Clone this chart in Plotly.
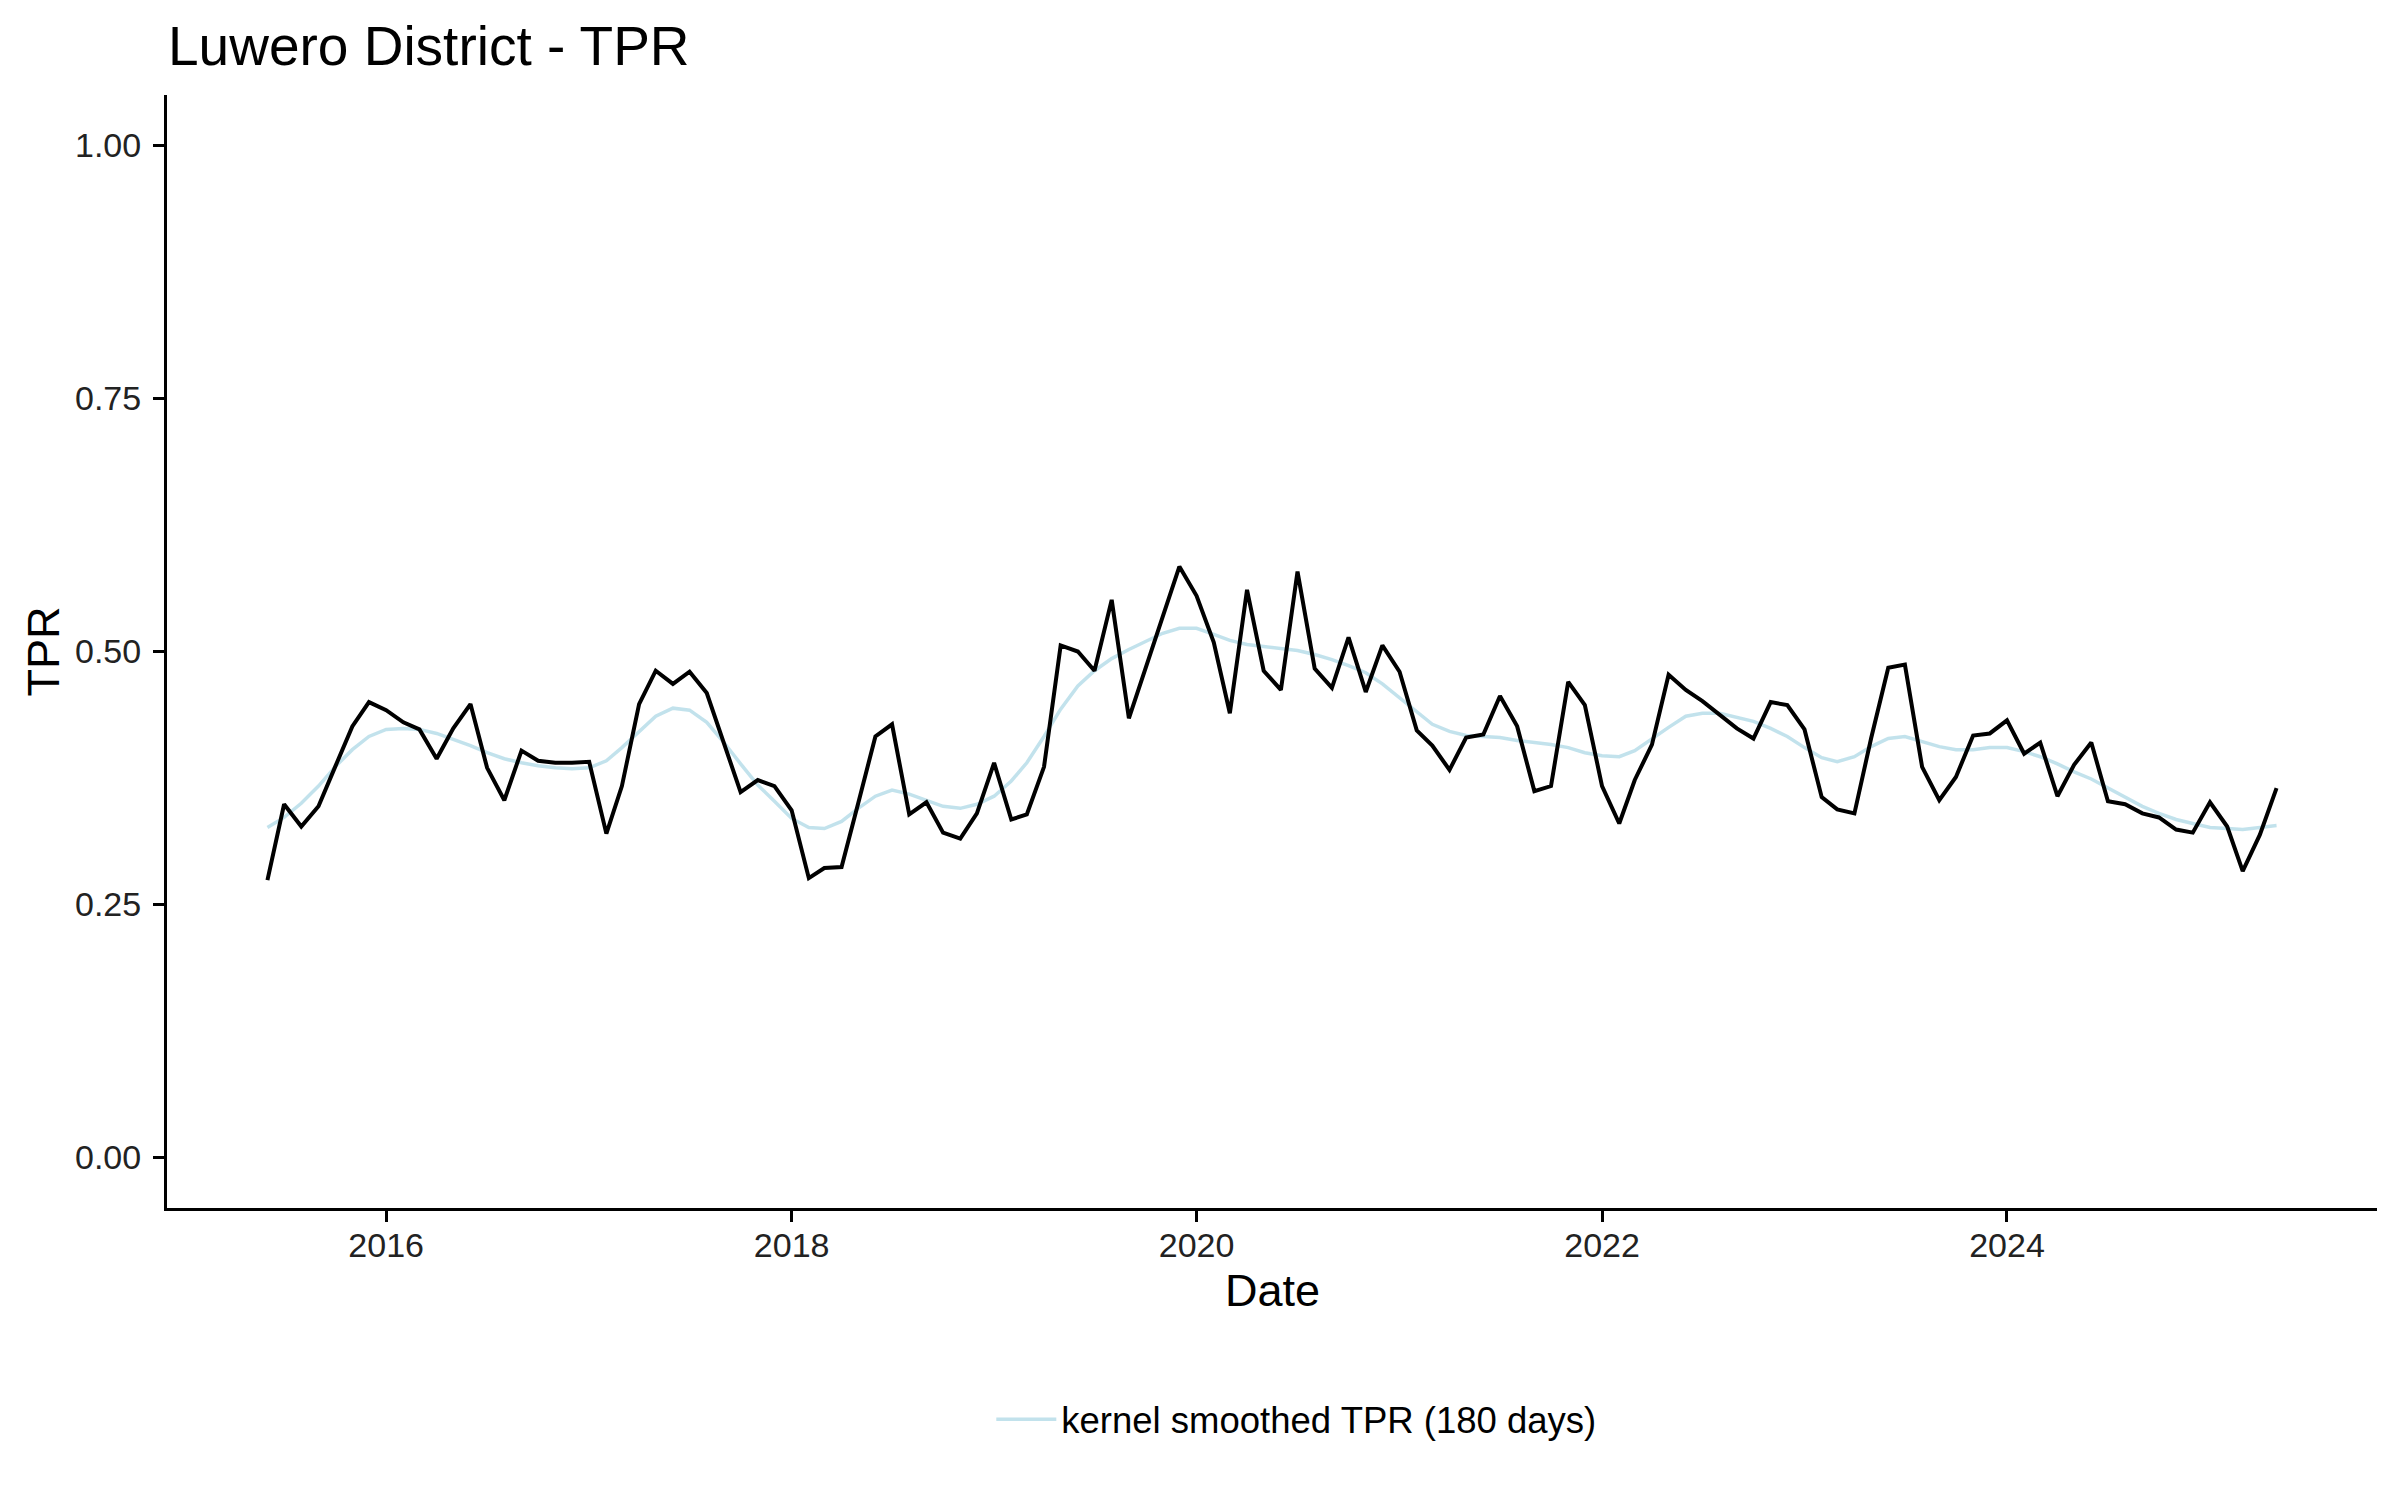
import pandas as pd
import plotly.graph_objects as go

# Monthly dates, June 2015 to May 2025
dates = pd.date_range("2015-06-01", "2025-05-01", freq="MS")

tpr = [
    0.274, 0.349, 0.327, 0.347, 0.386, 0.426, 0.450, 0.442, 0.430, 0.423,
    0.394, 0.424, 0.448, 0.385, 0.353, 0.402, 0.392, 0.390, 0.390, 0.391,
    0.320, 0.367, 0.448, 0.481, 0.468, 0.480, 0.459, 0.410, 0.361, 0.373,
    0.367, 0.343, 0.276, 0.286, 0.287, 0.350, 0.416, 0.428, 0.339, 0.351,
    0.321, 0.315, 0.340, 0.390, 0.334, 0.339, 0.386, 0.506, 0.500, 0.481,
    0.551, 0.434, 0.484, 0.534, 0.584, 0.555, 0.509, 0.439, 0.561, 0.481,
    0.462, 0.579, 0.483, 0.464, 0.514, 0.460, 0.506, 0.480, 0.422, 0.407,
    0.383, 0.415, 0.418, 0.456, 0.426, 0.362, 0.367, 0.470, 0.447, 0.367,
    0.330, 0.373, 0.408, 0.477, 0.462, 0.451, 0.438, 0.424, 0.414, 0.450,
    0.447, 0.423, 0.356, 0.344, 0.340, 0.414, 0.484, 0.487, 0.386, 0.353,
    0.376, 0.417, 0.419, 0.432, 0.399, 0.410, 0.357, 0.388, 0.410, 0.352,
    0.349, 0.340, 0.336, 0.324, 0.321, 0.351, 0.327, 0.283, 0.319, 0.365,
]

smoothed = [
    0.326, 0.336, 0.350, 0.367, 0.386, 0.403, 0.416, 0.423, 0.424, 0.423,
    0.419, 0.413, 0.407, 0.400, 0.394, 0.390, 0.387, 0.385, 0.384, 0.385,
    0.392, 0.405, 0.421, 0.436, 0.444, 0.442, 0.430, 0.410, 0.389, 0.368,
    0.352, 0.335, 0.326, 0.325, 0.332, 0.345, 0.357, 0.363, 0.359, 0.353,
    0.347, 0.345, 0.349, 0.357, 0.372, 0.390, 0.416, 0.443, 0.466, 0.481,
    0.493, 0.502, 0.510, 0.518, 0.523, 0.523, 0.517, 0.511, 0.507, 0.505,
    0.503, 0.501, 0.497, 0.492, 0.486, 0.479, 0.468, 0.454, 0.440, 0.428,
    0.421, 0.417, 0.416, 0.415, 0.412, 0.410, 0.408, 0.405, 0.400, 0.397,
    0.396, 0.402, 0.414, 0.425, 0.436, 0.439, 0.439, 0.435, 0.431, 0.424,
    0.416, 0.405, 0.395, 0.391, 0.396, 0.406, 0.414, 0.416, 0.411, 0.406,
    0.403, 0.403, 0.405, 0.405, 0.401, 0.396, 0.389, 0.381, 0.374, 0.365,
    0.356, 0.347, 0.340, 0.334, 0.330, 0.326, 0.325, 0.324, 0.326, 0.328,
]

x_tick_vals = ["2016-01-01", "2018-01-01", "2020-01-01", "2022-01-01", "2024-01-01"]
x_tick_text = ["2016", "2018", "2020", "2022", "2024"]
y_tick_vals = [0.0, 0.25, 0.5, 0.75, 1.0]
y_tick_text = ["0.00", "0.25", "0.50", "0.75", "1.00"]

FONT = "Liberation Sans, Arial, sans-serif"

fig = go.Figure()
fig.add_trace(go.Scatter(
    x=dates, y=smoothed, mode="lines",
    line=dict(color="rgba(173,216,230,0.75)", width=3.5),
    name="kernel smoothed TPR (180 days)", showlegend=True,
))
fig.add_trace(go.Scatter(
    x=dates, y=tpr, mode="lines",
    line=dict(color="black", width=4),
    name="TPR", showlegend=False,
))

span = dates[-1] - dates[0]
pad = span * 0.05
x_range = [dates[0] - pad, dates[-1] + pad]

fig.update_layout(
    width=2400, height=1500,
    paper_bgcolor="white", plot_bgcolor="white",
    margin=dict(l=159, r=31, t=87, b=300),
    font=dict(family=FONT, color="black"),
    title=dict(text="Luwero District - TPR", x=160 / 2400, xanchor="left",
               xref="container", yref="container", y=1 - 38 / 1500,
               yanchor="middle", font=dict(size=55, family=FONT, color="black")),
    xaxis=dict(
        type="date", range=x_range, tickvals=x_tick_vals, ticktext=x_tick_text,
        showgrid=False, zeroline=False, showline=True, linecolor="black",
        linewidth=3, ticks="outside", ticklen=11, tickwidth=3, tickcolor="black",
        ticklabelstandoff=-6,
        tickfont=dict(size=34, family=FONT, color="#222222"),
    ),
    yaxis=dict(
        range=[-0.05, 1.05], tickvals=y_tick_vals, ticktext=y_tick_text,
        showgrid=False, zeroline=False, showline=True, linecolor="black",
        linewidth=3, ticks="outside", ticklen=11, tickwidth=3, tickcolor="black",
        ticklabelstandoff=5,
        tickfont=dict(size=34, family=FONT, color="#222222"),
    ),
    legend=dict(orientation="h", x=0.511, xanchor="center", y=-0.19,
                yanchor="middle", itemwidth=60,
                font=dict(size=36.5, family=FONT, color="black"),
                bgcolor="rgba(0,0,0,0)"),
    annotations=[
        dict(text="Date", xref="paper", yref="paper", x=0.5, y=-0.0737,
             xanchor="center", yanchor="middle", showarrow=False,
             font=dict(size=45, family=FONT, color="black")),
        dict(text="TPR", xref="paper", yref="paper", x=-0.0561, y=0.5,
             xanchor="center", yanchor="middle", showarrow=False, textangle=-90,
             font=dict(size=45, family=FONT, color="black")),
    ],
)

fig.write_html("out.html")
